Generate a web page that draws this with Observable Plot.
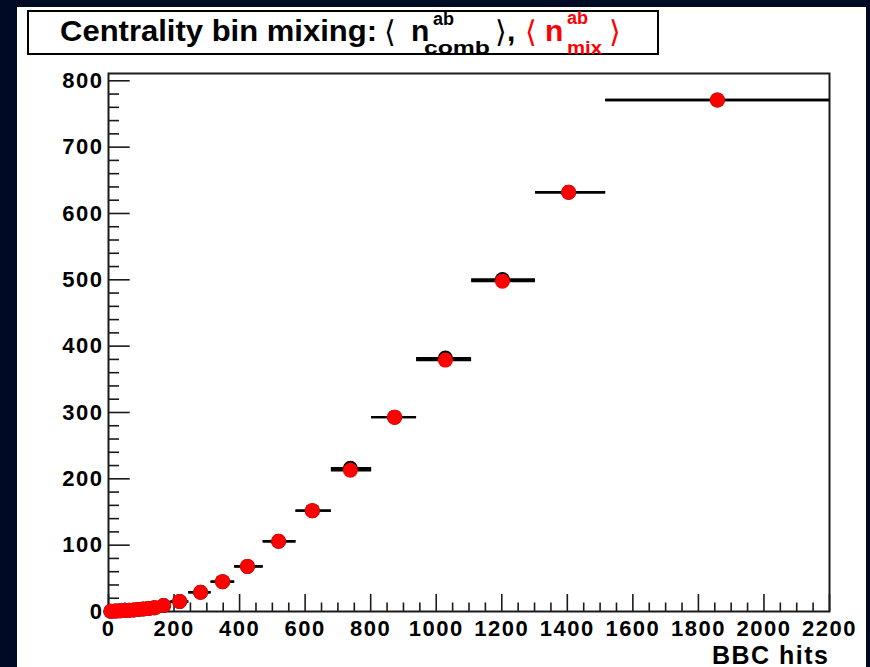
<!DOCTYPE html>
<html><head><meta charset="utf-8">
<script src="https://cdn.jsdelivr.net/npm/d3@7"></script>
<script src="https://cdn.jsdelivr.net/npm/@observablehq/plot@0.6"></script>
<style>
html,body{margin:0;padding:0;}
body{background:#000a24;width:870px;height:667px;overflow:hidden;position:relative;font-family:"Liberation Sans",Arial,sans-serif;}
#chart{position:absolute;left:17px;top:7px;}
#title{position:absolute;left:0;top:0;}
</style></head>
<body>
<div id="chart"></div>
<svg id="title" width="870" height="60" xmlns="http://www.w3.org/2000/svg" font-family="Liberation Sans, Arial, sans-serif" font-weight="bold">
  <rect x="28" y="11" width="630" height="43" fill="#fff" stroke="#000" stroke-width="2"></rect>
  <text x="60" y="41" font-size="30" textLength="317" lengthAdjust="spacingAndGlyphs">Centrality bin mixing:</text>
  <text x="384" y="42" font-size="30" font-weight="normal" font-family="DejaVu Sans">⟨</text>
  <text x="411" y="41" font-size="30">n</text>
  <text x="433" y="25" font-size="18">ab</text>
  <text x="424" y="54" font-size="19" textLength="66" lengthAdjust="spacingAndGlyphs">comb</text>
  <text x="495" y="42" font-size="30" font-weight="normal" font-family="DejaVu Sans">⟩</text>
  <text x="507" y="41" font-size="30">,</text>
  <g fill="#ff0000">
  <text x="525" y="42" font-size="30" font-weight="normal" font-family="DejaVu Sans">⟨</text>
  <text x="545" y="41" font-size="30">n</text>
  <text x="567" y="24" font-size="18">ab</text>
  <text x="567" y="54" font-size="19" textLength="35" lengthAdjust="spacingAndGlyphs">mix</text>
  <text x="609" y="42" font-size="30" font-weight="normal" font-family="DejaVu Sans">⟩</text>
  </g>
</svg>
<script>
// Data
const binLow  = [0, 14, 28, 42, 56, 70, 84, 98, 114, 130, 150, 190, 245, 313, 385, 472, 572, 680, 803, 940, 1108, 1303, 1517];
const binHigh = [14, 28, 42, 56, 70, 84, 98, 114, 130, 150, 190, 245, 313, 385, 472, 572, 680, 803, 940, 1108, 1303, 1517, 2200];
const bbcMean = [7, 21, 35, 49, 63, 77, 91, 106, 122, 140, 168, 217, 281, 348, 424, 519, 622, 738, 873, 1028, 1202, 1404, 1858];
const nComb   = [0.3, 0.6, 1, 1.4, 1.9, 2.4, 3, 3.7, 4.5, 5.5, 9, 15, 29, 45, 68, 106, 152, 216, 293, 382, 500.5, 632, 771];
const nMix    = [0.3, 0.6, 1, 1.4, 1.9, 2.4, 3, 3.7, 4.5, 5.5, 9, 15, 29, 45, 68, 106, 152, 213, 293, 379, 498, 632, 771];
const xMajorTicks = [0, 200, 400, 600, 800, 1000, 1200, 1400, 1600, 1800, 2000, 2200];
const yMajorTicks = [0, 100, 200, 300, 400, 500, 600, 700, 800];
const xLabel = "BBC hits";

const comb = bbcMean.map((x, i) => ({x, y: nComb[i], lo: binLow[i], hi: binHigh[i]}));
const mix  = bbcMean.map((x, i) => ({x, y: nMix[i], lo: binLow[i], hi: binHigh[i]}));
const xMinor = d3.range(0, 2201, 50).filter(v => v % 200 !== 0);
const yMinor = d3.range(0, 811, 20).filter(v => v % 100 !== 0);

const W = 849, H = 660, mL = 91, mR = 37, mT = 66, mB = 56;
const fW = W - mL - mR, fH = H - mT - mB;
const tickCol = "#1a1a1a";

const plot = Plot.plot({
  width: W, height: H,
  marginLeft: mL, marginRight: mR, marginTop: mT, marginBottom: mB,
  x: {domain: [0, 2200]},
  y: {domain: [0, 811]},
  style: {background: "#fff", fontFamily: "Liberation Sans, Arial, sans-serif", fontSize: "22px", fontWeight: "bold", color: "#000", letterSpacing: "1.5px"},
  marks: [
    Plot.ruleX(xMajorTicks, {x: d => d, stroke: tickCol, strokeWidth: 1.6, insetTop: fH - 17}),
    Plot.ruleX(xMinor, {x: d => d, stroke: tickCol, strokeWidth: 1.6, insetTop: fH - 8.5}),
    Plot.ruleY(yMajorTicks, {y: d => d, stroke: tickCol, strokeWidth: 1.6, insetRight: fW - 21.7}),
    Plot.ruleY(yMinor, {y: d => d, stroke: tickCol, strokeWidth: 1.6, insetRight: fW - 11}),
    Plot.axisX({ticks: xMajorTicks, tickSize: 0, tickPadding: 9, tickFormat: d => String(d), fill: "#000"}),
    Plot.axisY({ticks: yMajorTicks, tickSize: 0, tickPadding: 5, tickFormat: d => String(d), fill: "#000", label: null}),
    Plot.frame({stroke: "#1a1a1a", strokeWidth: 2}),
    Plot.ruleY(comb, {y: "y", x1: "lo", x2: "hi", stroke: "#000", strokeWidth: 2.4}),
    Plot.dot(comb, {x: "x", y: "y", r: 7.5, fill: "#000", stroke: "none"}),
    Plot.ruleY(mix, {y: "y", x1: "lo", x2: "hi", stroke: "#000", strokeWidth: 2.4}),
    Plot.dot(mix, {x: "x", y: "y", r: 7.5, fill: "#ff0000", stroke: "none"}),
    Plot.text([xLabel], {frameAnchor: "bottom-right", textAnchor: "end", lineAnchor: "bottom", dy: 52, fontSize: 25, fontWeight: "bold", fill: "#000", letterSpacing: "0.4px"})
  ]
});
document.getElementById("chart").appendChild(plot);
</script>
</body></html>
